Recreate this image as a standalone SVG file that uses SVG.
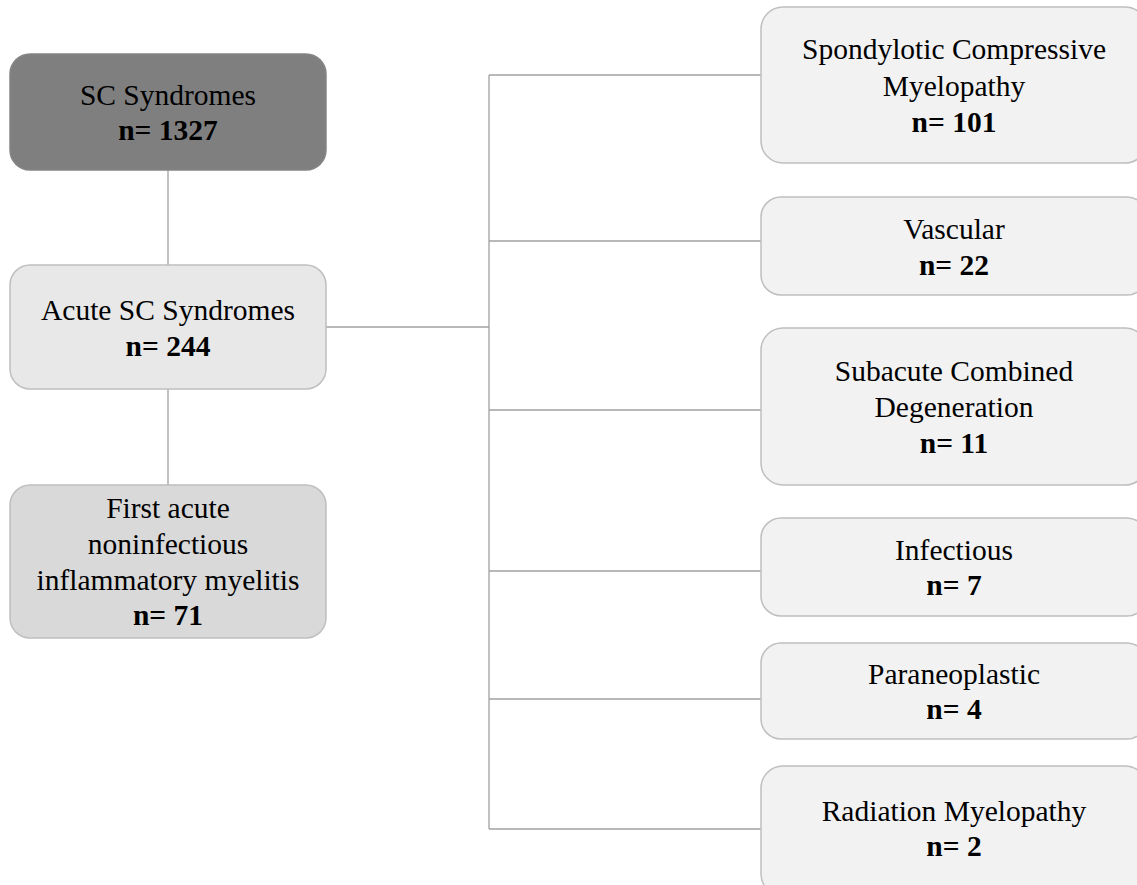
<svg xmlns="http://www.w3.org/2000/svg" width="1137" height="885" viewBox="0 0 1137 885">
<style>
text{font-family:"Liberation Serif","Times New Roman",serif;font-size:29.5px;fill:#000;text-anchor:middle}
.b{font-weight:bold}
.box{stroke:#bfbfbf;stroke-width:1.5}
.r{fill:#f2f2f2}
.c{stroke:#a0a0a0;stroke-width:1.3;fill:none}
</style>
<rect width="1137" height="885" fill="#fff"/>
<g id="connectors">
<line class="c" x1="168" y1="170" x2="168" y2="265"/>
<line class="c" x1="168" y1="389" x2="168" y2="485"/>
<line class="c" x1="326" y1="327" x2="489" y2="327"/>
<line class="c" x1="489" y1="75" x2="489" y2="829"/>
<line class="c" x1="489" y1="75" x2="761" y2="75"/>
<line class="c" x1="489" y1="241" x2="761" y2="241"/>
<line class="c" x1="489" y1="410" x2="761" y2="410"/>
<line class="c" x1="489" y1="571" x2="761" y2="571"/>
<line class="c" x1="489" y1="699" x2="761" y2="699"/>
<line class="c" x1="489" y1="829" x2="761" y2="829"/>
</g>
<g id="sc">
<rect x="10" y="54" width="316" height="116" rx="20" fill="#7f7f7f" stroke="#858585" stroke-width="1.5"/>
<text x="168" y="105">SC Syndromes</text>
<text class="b" x="168" y="140">n= 1327</text>
</g>
<g id="acute">
<rect class="box" x="10" y="265" width="316" height="124" rx="20" fill="#e8e8e8"/>
<text x="168" y="320">Acute SC Syndromes</text>
<text class="b" x="168" y="356">n= 244</text>
</g>
<g id="first">
<rect class="box" x="10" y="485" width="316" height="153" rx="20" fill="#d9d9d9"/>
<text x="168" y="518">First acute</text>
<text x="168" y="554">noninfectious</text>
<text x="168" y="590">inflammatory myelitis</text>
<text class="b" x="168" y="625">n= 71</text>
</g>
<g id="spondylotic">
<rect class="box r" x="761" y="7" width="386" height="156" rx="22"/>
<text x="954" y="59">Spondylotic Compressive</text>
<text x="954" y="96">Myelopathy</text>
<text class="b" x="954" y="132">n= 101</text>
</g>
<g id="vascular">
<rect class="box r" x="761" y="197" width="386" height="98" rx="20"/>
<text x="954" y="239">Vascular</text>
<text class="b" x="954" y="275">n= 22</text>
</g>
<g id="subacute">
<rect class="box r" x="761" y="328" width="386" height="157" rx="22"/>
<text x="954" y="381">Subacute Combined</text>
<text x="954" y="417">Degeneration</text>
<text class="b" x="954" y="453">n= 11</text>
</g>
<g id="infectious">
<rect class="box r" x="761" y="518" width="386" height="98" rx="20"/>
<text x="954" y="560">Infectious</text>
<text class="b" x="954" y="595">n= 7</text>
</g>
<g id="paraneoplastic">
<rect class="box r" x="761" y="643" width="386" height="96" rx="20"/>
<text x="954" y="684">Paraneoplastic</text>
<text class="b" x="954" y="719">n= 4</text>
</g>
<g id="radiation">
<rect class="box r" x="761" y="766" width="386" height="130" rx="22"/>
<text x="954" y="821">Radiation Myelopathy</text>
<text class="b" x="954" y="856">n= 2</text>
</g>
</svg>
